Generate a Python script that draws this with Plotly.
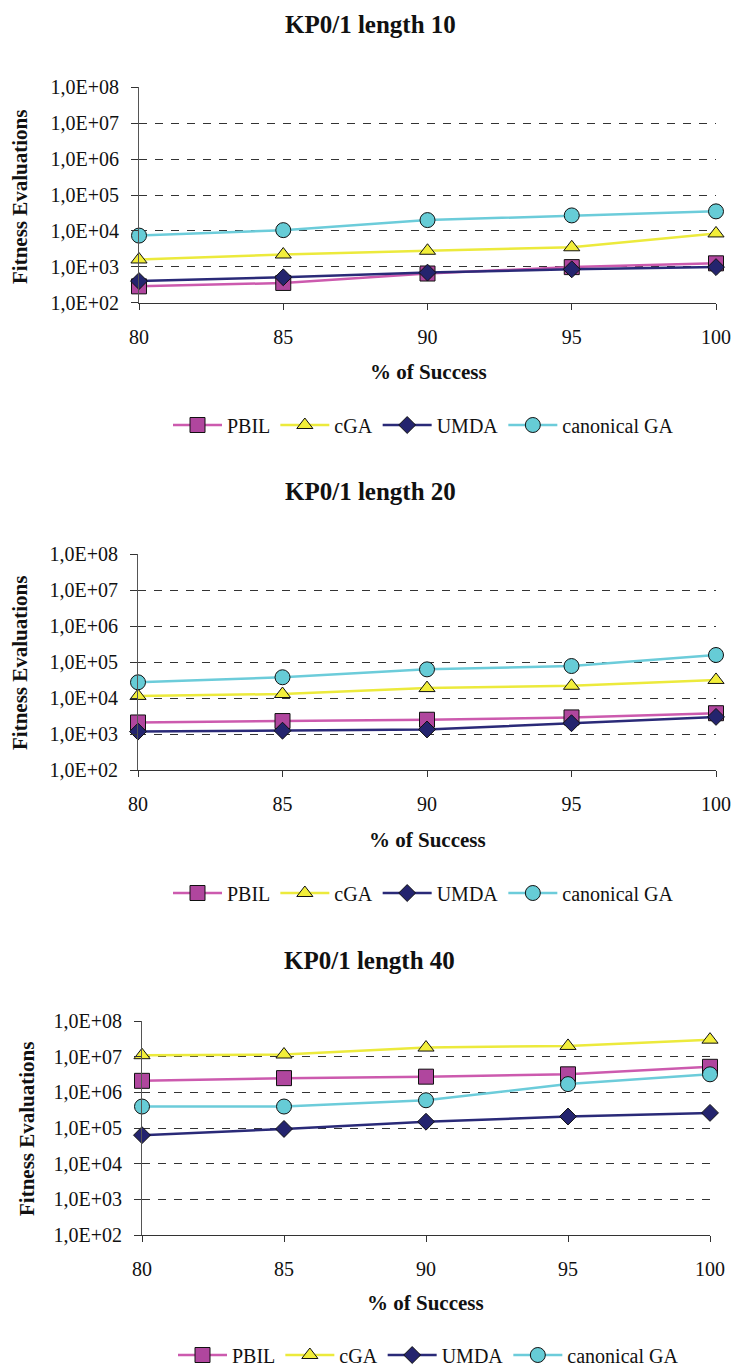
import plotly.graph_objects as go

# ---------------- data ----------------
success = [80, 85, 90, 95, 100]
series_names = ["PBIL", "cGA", "UMDA", "canonical GA"]

titles = ["KP0/1 length 10", "KP0/1 length 20", "KP0/1 length 40"]

# length 10
pbil_10 = [285, 355, 650, 980, 1250]
cga_10 = [1600, 2200, 2800, 3500, 8500]
umda_10 = [400, 510, 690, 850, 980]
cano_10 = [7400, 10500, 20000, 27000, 35000]

# length 20
pbil_20 = [2100, 2300, 2500, 2900, 3800]
cga_20 = [11500, 13000, 19000, 22000, 32000]
umda_20 = [1170, 1240, 1340, 2000, 3000]
cano_20 = [27500, 38000, 63000, 78000, 158000]

# length 40
pbil_40 = [2.1e6, 2.5e6, 2.75e6, 3.2e6, 5.2e6]
cga_40 = [1.1e7, 1.15e7, 1.8e7, 2.0e7, 3.0e7]
umda_40 = [6.3e4, 9.4e4, 1.5e5, 2.1e5, 2.65e5]
cano_40 = [4.0e5, 4.0e5, 6.0e5, 1.7e6, 3.2e6]

y_tick_vals = [1e2, 1e3, 1e4, 1e5, 1e6, 1e7, 1e8]
y_tick_text = ["1,0E+02", "1,0E+03", "1,0E+04", "1,0E+05", "1,0E+06", "1,0E+07", "1,0E+08"]
x_tick_vals = [80, 85, 90, 95, 100]

x_title = "% of Success"
y_title = "Fitness Evaluations"

# ---------------- styles ----------------
W, H = 735, 1366
FONT = "Liberation Serif"
line_colors = ["#CC5AAE", "#ECEA3C", "#2A2A78", "#6CCCDA"]
marker_colors = ["#B0469E", "#F2EE3A", "#24246E", "#66CCD6"]
symbols = ["square", "triangle-up", "diamond", "circle"]
msizes = [15, 14, 13, 15]

panels = [
    [pbil_10, cga_10, umda_10, cano_10],
    [pbil_20, cga_20, umda_20, cano_20],
    [pbil_40, cga_40, umda_40, cano_40],
]

# pixel layout (left, right, top, bottom) per panel
boxes = [
    (139, 716, 87.3, 302.7),
    (138, 716, 554.3, 770.0),
    (142, 710, 1021.0, 1235.0),
]
title_y = [25, 492, 960]
title_x = [370, 370, 369]
xtitle_pos = [(428, 372), (427, 840), (426, 1303)]
ytitle_pos = [(20, 197), (20, 663), (27, 1129)]
legend_pos = [(168, 425), (168, 893), (173, 1355)]

def px_x(v):
    return v / W

def px_y(v):
    return 1 - v / H

fig = go.Figure()
legend_ids = ["legend", "legend2", "legend3"]
annotations = []

for p, data in enumerate(panels):
    xa = "x" if p == 0 else f"x{p+1}"
    ya = "y" if p == 0 else f"y{p+1}"
    for s, vals in enumerate(data):
        fig.add_trace(go.Scatter(
            x=success, y=vals, name=series_names[s], mode="lines+markers",
            xaxis=xa, yaxis=ya, legend=legend_ids[p], cliponaxis=False,
            line=dict(color=line_colors[s], width=2.5),
            marker=dict(symbol=symbols[s], size=msizes[s], color=marker_colors[s],
                        line=dict(color="#111111", width=1)),
        ))
    l, r, t, b = boxes[p]
    xkey = "xaxis" if p == 0 else f"xaxis{p+1}"
    ykey = "yaxis" if p == 0 else f"yaxis{p+1}"
    fig.update_layout(**{
        xkey: dict(domain=[px_x(l), px_x(r)], anchor=ya, range=[80, 100], automargin=False,
                   tickvals=x_tick_vals, ticks="outside", ticklen=6, tickcolor="#333333",
                   ticklabelstandoff=10,
                   showline=True, linecolor="#333333", linewidth=1, showgrid=False,
                   zeroline=False, tickfont=dict(family=FONT, size=20, color="#111111")),
        ykey: dict(domain=[px_y(b), px_y(t)], anchor=xa, type="log", range=[2, 8], automargin=False,
                   tickvals=y_tick_vals, ticktext=y_tick_text, ticks="outside", ticklen=7,
                   ticklabelstandoff=8,
                   tickcolor="#333333", showline=True, linecolor="#555555", linewidth=1,
                   showgrid=True, gridcolor="#333333", gridwidth=1, griddash="8px,8px",
                   zeroline=False, tickfont=dict(family=FONT, size=20, color="#111111")),
        legend_ids[p]: dict(orientation="h", x=px_x(legend_pos[p][0]), xanchor="left",
                            y=px_y(legend_pos[p][1]), yanchor="middle",
                            font=dict(family=FONT, size=20, color="#111111"),
                            bgcolor="rgba(0,0,0,0)", itemwidth=49),
    })
    annotations.append(dict(text=f"<b>{titles[p]}</b>", x=px_x(title_x[p]), y=px_y(title_y[p]),
                            xref="paper", yref="paper", showarrow=False,
                            xanchor="center", yanchor="middle",
                            font=dict(family=FONT, size=25, color="#111111")))
    annotations.append(dict(text=f"<b>{x_title}</b>", x=px_x(xtitle_pos[p][0]), y=px_y(xtitle_pos[p][1]),
                            xref="paper", yref="paper", showarrow=False,
                            xanchor="center", yanchor="middle",
                            font=dict(family=FONT, size=21, color="#111111")))
    annotations.append(dict(text=f"<b>{y_title}</b>", x=px_x(ytitle_pos[p][0]), y=px_y(ytitle_pos[p][1]),
                            xref="paper", yref="paper", showarrow=False, textangle=-90,
                            xanchor="center", yanchor="middle",
                            font=dict(family=FONT, size=21, color="#111111")))

fig.update_layout(
    width=W, height=H, margin=dict(l=0, r=0, t=0, b=0, autoexpand=False),
    paper_bgcolor="white", plot_bgcolor="white",
    annotations=annotations, showlegend=True,
)

fig.write_html(
    "out.html",
    config={"displayModeBar": False},
    post_script="document.body.style.margin='0';document.body.style.padding='0';",
)
